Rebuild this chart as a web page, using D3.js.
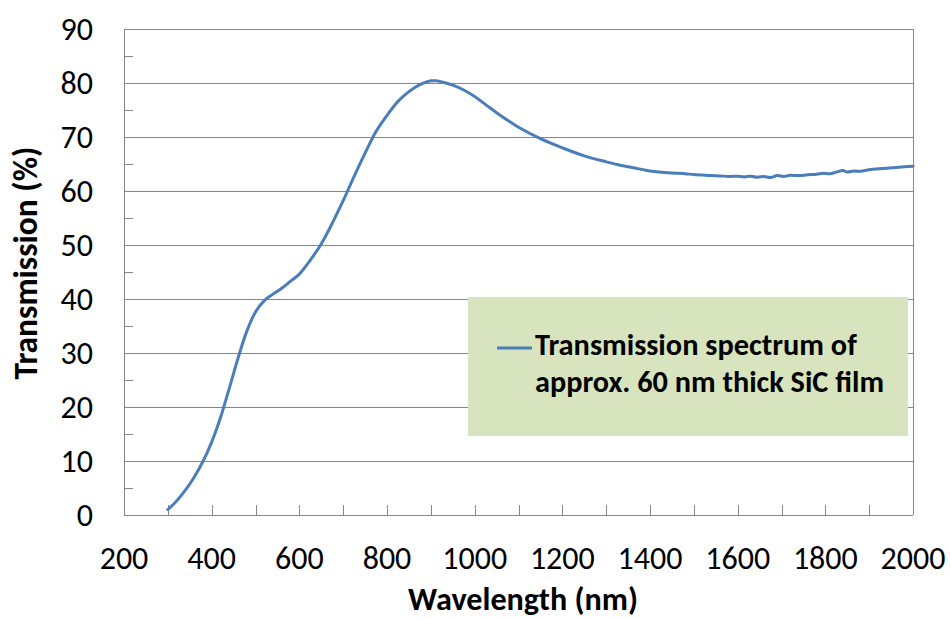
<!DOCTYPE html>
<html><head><meta charset="utf-8">
<script src="https://cdn.jsdelivr.net/npm/d3@7"></script>
<style>
html,body{margin:0;padding:0;background:#fff;}
svg{display:block;font-family:Carlito,Lato,"Open Sans",sans-serif;}
</style></head>
<body>
<svg id="c" width="950" height="619"></svg>
<script>
// ---- data ----
const wavelength = [300,320,340,360,380,400,420,440,460,480,500,520,540,560,580,600,625,650,675,700,725,750,775,800,825,850,875,900,912,925,950,975,1000,1025,1050,1075,1100,1150,1200,1250,1300,1325,1350,1375,1400,1420,1440,1460,1480,1500,1520,1540,1560,1580,1600,1615,1630,1645,1660,1675,1690,1705,1720,1740,1760,1780,1795,1810,1825,1840,1850,1865,1880,1900,1920,1940,1960,1980,2000];
const transmission = [1.0,2.6,4.6,7.0,9.9,13.5,18.0,23.4,29.0,34.0,37.6,39.7,40.9,42.0,43.3,44.6,47.2,50.2,54.0,58.2,62.7,67.0,71.0,74.0,76.6,78.4,79.7,80.4,80.4,80.2,79.6,78.7,77.5,76.0,74.5,73.1,71.8,69.7,68.0,66.5,65.4,64.9,64.5,64.1,63.7,63.5,63.4,63.3,63.2,63.05,62.95,62.85,62.8,62.7,62.75,62.6,62.75,62.55,62.7,62.5,62.85,62.7,62.9,62.85,63.0,63.1,63.3,63.2,63.5,63.8,63.5,63.7,63.65,63.95,64.1,64.2,64.35,64.5,64.6];
const xTicks = [200,400,600,800,1000,1200,1400,1600,1800,2000];
const xMinorTicks = [300,400,500,600,700,800,900,1000,1100,1200,1300,1400,1500,1600,1700,1800,1900];
const yTicks = [0,10,20,30,40,50,60,70,80,90];
const yMinorTicks = [5,15,25,35,45,55,65,75,85];
const seriesName = ["Transmission spectrum of", "approx. 60 nm thick SiC film"];
const xTitle = "Wavelength (nm)";
const yTitle = "Transmission (%)";

// ---- layout ----
const L = 124, R = 913, T = 29, B = 515;
const svg = d3.select("#c");
const x = d3.scaleLinear().domain([200,2000]).range([L,R]);
const y = d3.scaleLinear().domain([0,90]).range([B,T]);
const gridColor = "#868686";
const lineColor = "#4a7ebb";

// gridlines
svg.append("g").selectAll("line").data(yTicks).join("line")
  .attr("x1",L).attr("x2",R)
  .attr("y1",d=>Math.round(y(d))+0.5).attr("y2",d=>Math.round(y(d))+0.5)
  .attr("stroke",gridColor).attr("stroke-width",1);
// right border
svg.append("line").attr("x1",R+0.5).attr("x2",R+0.5).attr("y1",T).attr("y2",B)
  .attr("stroke",gridColor);
// left axis
svg.append("line").attr("x1",L+0.5).attr("x2",L+0.5).attr("y1",T).attr("y2",B+0.5)
  .attr("stroke",gridColor);
// y minor ticks (inside)
svg.append("g").selectAll("line").data(yMinorTicks).join("line")
  .attr("x1",L).attr("x2",L+9)
  .attr("y1",d=>Math.round(y(d))+0.5).attr("y2",d=>Math.round(y(d))+0.5)
  .attr("stroke",gridColor);
// x ticks (inside)
svg.append("g").selectAll("line").data(xMinorTicks).join("line")
  .attr("x1",d=>Math.round(x(d))+0.5).attr("x2",d=>Math.round(x(d))+0.5)
  .attr("y1",B-10).attr("y2",B)
  .attr("stroke",gridColor);

// tick labels
const tickFont = 32;
svg.append("g").selectAll("text").data(yTicks).join("text")
  .attr("x",93).attr("y",d=>y(d)).attr("dy","0.35em")
  .attr("text-anchor","end").attr("font-size",tickFont).attr("fill","#000")
  .text(d=>d);
svg.append("g").selectAll("text").data(xTicks).join("text")
  .attr("x",d=>x(d)).attr("y",569)
  .attr("text-anchor","middle").attr("font-size",tickFont).attr("fill","#000")
  .text(d=>d);

// fit helper
function fit(sel, target){
  const w = sel.node().getComputedTextLength();
  const fs = parseFloat(sel.attr("font-size"));
  sel.attr("font-size", fs*target/w);
}

// axis titles
const xt = svg.append("text").attr("x",523).attr("y",610).attr("text-anchor","middle")
  .attr("font-weight","bold").attr("font-size",28).text(xTitle);
fit(xt,230);
const yt = svg.append("text").attr("transform","translate(37,263) rotate(-90)")
  .attr("text-anchor","middle").attr("font-weight","bold").attr("font-size",28).text(yTitle);
fit(yt,233);

// legend box
svg.append("rect").attr("x",468).attr("y",297).attr("width",440).attr("height",139)
  .attr("fill","#d7e4bd");
svg.append("line").attr("x1",497).attr("x2",532).attr("y1",348).attr("y2",348)
  .attr("stroke",lineColor).attr("stroke-width",3);
const l1 = svg.append("text").attr("x",535).attr("y",355).attr("font-weight","bold")
  .attr("font-size",26).text(seriesName[0]);
fit(l1,322);
const l2 = svg.append("text").attr("x",535).attr("y",392).attr("font-weight","bold")
  .attr("font-size",26).text(seriesName[1]);
fit(l2,349);

// series line
const data = wavelength.map((w,i)=>[w,transmission[i]]);
svg.append("path").datum(data)
  .attr("fill","none").attr("stroke",lineColor).attr("stroke-width",3)
  .attr("stroke-linejoin","round").attr("stroke-linecap","round")
  .attr("d",d3.line().x(d=>x(d[0])).y(d=>y(d[1])).curve(d3.curveCatmullRom.alpha(0.5)));
</script>
</body></html>
